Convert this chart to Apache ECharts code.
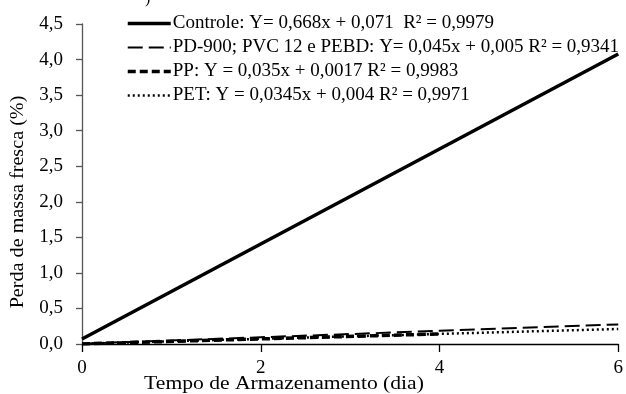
<!DOCTYPE html>
<html>
<head>
<meta charset="utf-8">
<script src="https://cdn.jsdelivr.net/npm/echarts@6/dist/echarts.min.js"></script>
<style>html,body{margin:0;padding:0;background:#fff}#c{width:626px;height:394px}</style>
</head>
<body>
<div id="c"></div>
<script>
var days = [0, 2, 4, 6];
var daysPP = [0, 2, 4];
var controle = [0.071, 1.407, 2.743, 4.079];
var pd900 = [0.005, 0.095, 0.185, 0.275];
var pp = [0.0017, 0.0717, 0.1417];
var pet = [0.004, 0.073, 0.142, 0.211];
var seriesNames = [
  'Controle: Y= 0,668x + 0,071  R² = 0,9979',
  'PD-900; PVC 12 e PEBD: Y= 0,045x + 0,005 R² = 0,9341',
  'PP: Y = 0,035x + 0,0017 R² = 0,9983',
  'PET: Y = 0,0345x + 0,004 R² = 0,9971'
];
var yTicks = ['0,0','0,5','1,0','1,5','2,0','2,5','3,0','3,5','4,0','4,5'];
var xTitle = 'Tempo de Armazenamento (dia)';
var yTitle = 'Perda de massa fresca (%)';

var styles = [
  {color: '#000', width: 3.5, type: 'solid'},
  {color: '#000', width: 2, type: [15, 6]},
  {color: '#000', width: 3.5, type: [8, 4]},
  {color: '#000', width: 2.5, type: [2, 3]}
];
function pairs(xs, ys){ return xs.map(function(x,i){ return [x, ys[i]]; }); }
var font = 'Liberation Serif, Times New Roman, serif';
var chart = echarts.init(document.getElementById('c'), null, {renderer:'canvas'});
chart.setOption({
  animation: false,
  backgroundColor: '#fff',
  grid: {left: 82, right: 6, top: 24, bottom: 50},
  legend: {
    orient: 'vertical', left: 121, top: 9, itemWidth: 43, itemHeight: 14, itemGap: 5,
    itemStyle: {color: 'rgba(0,0,0,0)', borderColor: 'rgba(0,0,0,0)', borderWidth: 0},
    textStyle: {fontFamily: font, fontSize: 19, lineHeight: 18, color: '#000', padding: [0,0,0,-3]},
    data: seriesNames.map(function(n, i){ return {name: n, lineStyle: styles[i]}; })
  },
  xAxis: {
    type: 'value', min: 0, max: 6, interval: 2,
    axisLine: {lineStyle: {color: '#000', width: 1.3}},
    axisTick: {show: true, length: 8, inside: false, lineStyle: {color: '#000', width: 1.3}},
    axisLabel: {fontFamily: font, fontSize: 19, color: '#000', margin: 15},
    splitLine: {show: false}
  },
  yAxis: {
    type: 'value', min: 0, max: 4.5, interval: 0.5,
    axisLine: {show: true, lineStyle: {color: '#555', width: 1.3}},
    axisTick: {show: true, length: 6, lineStyle: {color: '#555', width: 1.3}},
    axisLabel: {fontFamily: font, fontSize: 19, color: '#000', margin: 19,
      formatter: function(v){ return yTicks[Math.round(v/0.5)]; }},
    splitLine: {show: false}
  },
  graphic: [
    {type:'text', x: 284, y: 384, scaleX: 1.2, style: {text: xTitle, x: 0, y: 0, fontFamily: font, fontSize: 18, fill: '#000', textAlign: 'center', textVerticalAlign: 'middle'}},
    {type:'text', rotation: Math.PI/2, x: 18, y: 202, scaleX: 1.12, style: {text: yTitle, x: 0, y: 0, fontFamily: font, fontSize: 18, fill: '#000', textAlign: 'center', textVerticalAlign: 'middle'}},
    {type:'text', x: 145, y: -9, style: {text: ')', fontFamily: font, fontSize: 16, fill: '#000'}}
  ],
  series: [
    {name: seriesNames[0], type: 'line', data: pairs(days, controle), symbol: 'none', z: 5,
      color: '#000', lineStyle: styles[0]},
    {name: seriesNames[1], type: 'line', data: pairs(days, pd900), symbol: 'none',
      color: '#000', lineStyle: styles[1]},
    {name: seriesNames[2], type: 'line', data: pairs(daysPP, pp), symbol: 'none',
      color: '#000', lineStyle: styles[2]},
    {name: seriesNames[3], type: 'line', data: pairs(days, pet), symbol: 'none',
      color: '#000', lineStyle: styles[3]}
  ]
});
</script>
</body>
</html>
